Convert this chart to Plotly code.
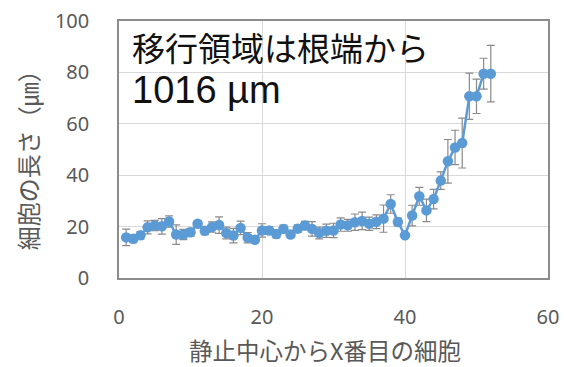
import plotly.graph_objects as go

# Cell position counted from the quiescent centre, and mean cell length (µm) with SD
cell_index = list(range(1, 53))
cell_length = [
    15.8, 15.3, 16.6, 19.7, 20.4, 20.1, 22.0, 16.9, 16.9, 17.8,
    21.1, 18.4, 19.8, 20.6, 17.5, 16.5, 19.5, 15.7, 14.9, 18.5,
    18.5, 17.1, 19.1, 16.9, 19.2, 20.4, 19.1, 17.5, 18.4, 18.5,
    20.8, 20.5, 21.7, 22.2, 21.1, 21.9, 23.1, 28.8, 21.8, 16.6,
    24.3, 31.8, 26.3, 30.7, 37.9, 45.4, 50.8, 52.5, 70.7, 70.7,
    79.5, 79.5,
]
length_sd = [
    3.2, 1.5, 1.5, 2.5, 2.0, 3.0, 2.2, 3.8, 2.0, 1.5,
    1.0, 1.5, 2.0, 3.2, 2.3, 2.8, 2.6, 2.0, 1.0, 2.6,
    1.5, 1.5, 1.5, 1.0, 1.5, 1.6, 2.8, 2.3, 2.6, 2.8,
    2.6, 2.3, 3.2, 3.4, 2.6, 2.7, 5.3, 3.6, 1.5, 1.0,
    4.0, 3.5, 4.4, 3.8, 3.4, 8.5, 6.7, 9.7, 9.0, 6.7,
    6.0, 11.0,
]

x_ticks = [0, 20, 40, 60]
y_ticks = [0, 20, 40, 60, 80, 100]
x_title = "静止中心からX番目の細胞"
y_title = "細胞の長さ（㎛）"

blue = "#5B9BD5"
grey_text = "#595959"
tick_font = dict(family="Noto Sans, Open Sans, sans-serif", size=20, color=grey_text)
cjk = "Noto Sans CJK JP, sans-serif"

fig = go.Figure()
fig.add_trace(go.Scatter(
    x=cell_index,
    y=cell_length,
    mode="lines+markers",
    line=dict(color=blue, width=2.5),
    marker=dict(color=blue, size=10.5),
    error_y=dict(type="data", array=length_sd, visible=True,
                 color="#8a8a8a", thickness=1.2, width=4),
    showlegend=False,
))

# In-plot caption
fig.add_annotation(
    x=1.5, y=90, xref="x", yref="y",
    text="移行領域は根端から", showarrow=False,
    xanchor="left", yanchor="middle",
    font=dict(family=cjk, size=33, color="#111111"),
)
fig.add_annotation(
    x=1.5, y=73, xref="x", yref="y",
    text="1016 µm", showarrow=False,
    xanchor="left", yanchor="middle",
    font=dict(family="Liberation Sans, Arial, sans-serif", size=38, color="#111111"),
)

# Axis titles placed as annotations for fixed positioning
fig.add_annotation(
    x=0.48, y=-0.282, xref="paper", yref="paper",
    text=x_title, showarrow=False, xanchor="center", yanchor="middle",
    font=dict(family=cjk, size=23.5, color=grey_text),
)
fig.add_annotation(
    x=-0.214, y=0.482, xref="paper", yref="paper",
    text=y_title, showarrow=False, xanchor="center", yanchor="middle",
    textangle=-90,
    font=dict(family=cjk, size=24, color=grey_text),
)

axis_common = dict(
    ticks="", showgrid=True, gridcolor="#D9D9D9", gridwidth=1,
    zeroline=False, showline=True, linecolor="#8c8c8c", linewidth=1.5, mirror=True,
    tickfont=tick_font, automargin=False,
)

fig.update_layout(
    width=564, height=367,
    margin=dict(l=119, r=16, t=21, b=89),
    paper_bgcolor="white", plot_bgcolor="white",
    xaxis=dict(range=[0, 60], tickvals=x_ticks, ticklabelstandoff=20, **axis_common),
    yaxis=dict(range=[0, 100], tickvals=y_ticks, ticklabelstandoff=24, **axis_common),
)

fig.write_html("out.html")
